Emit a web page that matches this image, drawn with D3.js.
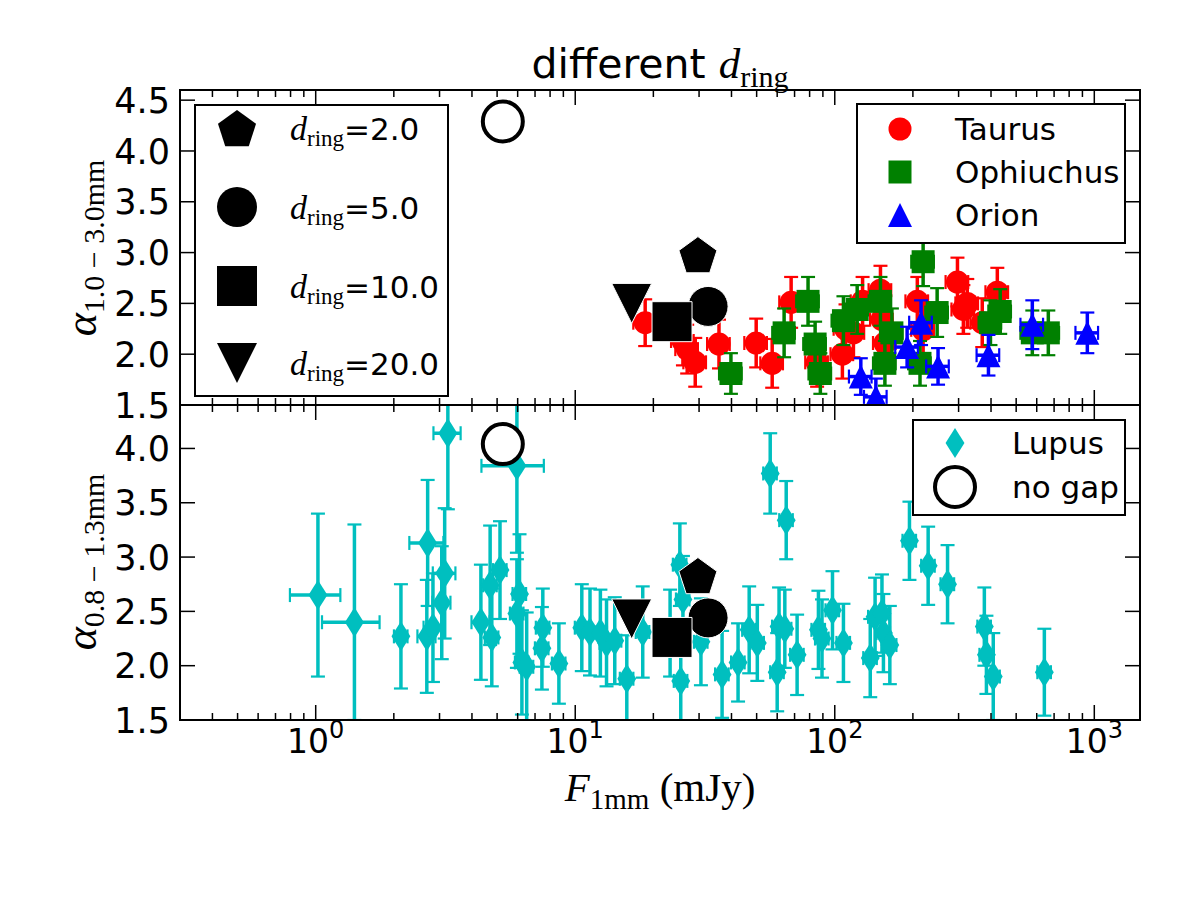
<!DOCTYPE html>
<html>
<head>
<meta charset="utf-8">
<script src="https://cdn.jsdelivr.net/npm/d3@7"></script>
<style>
  body { margin: 0; background: #fff; }
</style>
</head>
<body>
<div id="chart"></div>
<script>
// rows: [F_1mm (mJy), alpha, alpha error]
const taurus = [
  [18.6, 2.31, 0.23], [26, 2.13, 0.24], [27, 2.05, 0.24], [29, 1.92, 0.24],
  [35.8, 2.10, 0.24], [49.8, 2.11, 0.24], [57.4, 1.91, 0.24], [67.9, 2.51, 0.25],
  [85.5, 1.92, 0.24], [107, 2.00, 0.24], [110, 2.25, 0.24], [118, 2.21, 0.24],
  [128, 2.52, 0.24], [150, 2.63, 0.24], [152, 2.34, 0.24], [156, 2.11, 0.24],
  [208, 2.52, 0.24], [219, 2.24, 0.24], [297, 2.71, 0.24], [313, 2.44, 0.24],
  [324, 2.50, 0.24], [370, 2.31, 0.24], [423, 2.61, 0.24]
];
const ophiuchus = [
  [39.8, 1.81, 0.2], [63.8, 2.21, 0.24], [78.9, 2.52, 0.24], [84, 2.10, 0.22],
  [88, 1.81, 0.2], [108, 2.33, 0.24], [122, 2.44, 0.24], [150, 2.52, 0.24],
  [156, 1.91, 0.22], [166, 2.21, 0.24], [213, 1.91, 0.22], [219, 2.91, 0.24],
  [248, 2.41, 0.24], [398, 2.31, 0.22], [434, 2.42, 0.22], [577, 2.21, 0.22],
  [665, 2.21, 0.22]
];
const orion = [
  [126, 1.78, 0.18], [144, 1.58, 0.18], [190, 2.07, 0.2], [215, 2.31, 0.22],
  [250, 1.88, 0.18], [391, 1.99, 0.2], [577, 2.29, 0.24], [577, 3.4, 0.28],
  [940, 2.21, 0.2]
];
// rows: [F_1mm (mJy), alpha, alpha error, relative flux error]
const lupus = [
  [1.02, 2.65, 0.75, 0.22], [1.41, 2.40, 0.90, 0.25], [2.13, 2.27, 0.48, 0.06],
  [2.70, 3.13, 0.58, 0.15], [2.68, 2.27, 0.52, 0.08], [2.83, 2.35, 0.5, 0.08],
  [3.06, 2.58, 0.52, 0.08], [3.14, 2.85, 0.6, 0.1], [3.23, 4.14, 0.7, 0.12],
  [4.33, 2.40, 0.53, 0.08], [4.7, 2.74, 0.55, 0.06], [4.77, 2.26, 0.45, 0.06],
  [5.13, 2.88, 0.45, 0.06], [5.96, 3.84, 0.8, 0.27], [6.1, 2.66, 0.55, 0.06],
  [5.96, 2.48, 0.5, 0.06], [6.23, 2.03, 0.48, 0.06], [6.5, 1.99, 0.5, 0.06],
  [7.44, 2.16, 0.38, 0.06], [7.5, 2.35, 0.36, 0.06], [8.65, 2.02, 0.37, 0.06],
  [10.6, 2.35, 0.40, 0.06], [11.4, 2.31, 0.4, 0.06], [12.5, 2.30, 0.4, 0.06],
  [13.2, 2.21, 0.4, 0.06], [14.2, 2.23, 0.4, 0.06], [15.8, 1.88, 0.4, 0.06],
  [18.2, 2.31, 0.42, 0.06], [23.2, 2.30, 0.4, 0.06], [25.3, 2.93, 0.38, 0.06],
  [26, 2.61, 0.4, 0.06], [25.5, 1.86, 0.4, 0.06], [30.5, 2.22, 0.4, 0.06],
  [36.8, 1.92, 0.4, 0.06], [42.4, 2.03, 0.36, 0.06], [46.8, 2.33, 0.4, 0.06],
  [50.3, 2.21, 0.35, 0.06], [56.4, 3.77, 0.37, 0.06], [65, 3.34, 0.36, 0.06],
  [60, 1.94, 0.36, 0.06], [61, 2.36, 0.36, 0.06], [64.2, 2.34, 0.36, 0.06],
  [71.6, 2.10, 0.37, 0.06], [86.5, 2.33, 0.36, 0.06], [89.3, 2.25, 0.36, 0.06],
  [98, 2.51, 0.36, 0.06], [108, 2.21, 0.36, 0.06], [137, 2.07, 0.36, 0.06],
  [143, 2.45, 0.36, 0.06], [152, 2.48, 0.36, 0.06], [154, 2.30, 0.36, 0.06],
  [163, 2.19, 0.36, 0.06], [194, 3.15, 0.36, 0.06], [229, 2.92, 0.36, 0.06],
  [272, 2.75, 0.36, 0.06], [377, 2.36, 0.36, 0.06], [384, 2.10, 0.36, 0.06],
  [408, 1.90, 0.40, 0.06], [642, 1.94, 0.40, 0.06]
];
// model runs: d_ring values, marker per run, positions in each panel
const dringValues = ["2.0", "5.0", "10.0", "20.0"];
const modelMarkers = ["pentagon", "circle", "square", "triDown"];
const modelTop = [[29.7, 2.98], [32.5, 2.47], [23.6, 2.32], [16.5, 2.50]];
const modelBottom = [[29.7, 2.83], [32.5, 2.44], [23.6, 2.26], [16.5, 2.43]];
const noGapTop = [5.26, 4.29];
const noGapBottom = [5.26, 4.04];

const topTicks = [1.5, 2.0, 2.5, 3.0, 3.5, 4.0, 4.5];
const bottomTicks = [1.5, 2.0, 2.5, 3.0, 3.5, 4.0];
const xMajor = [1, 10, 100, 1000];
const xMajorExp = ["0", "1", "2", "3"];

function init() {
  const width = 1200, height = 900;
  const left = 180, right = 1140;
  const sans = "DejaVu Sans", serif = "Liberation Serif";

  const svg = d3.select("#chart").append("svg")
    .attr("width", width).attr("height", height)
    .style("background", "#fff");

  const x = d3.scaleLog().domain([0.3, 1500]).range([left, right]);
  const yTop = d3.scaleLinear().domain([1.5, 4.6]).range([405, 90]);
  const yBot = d3.scaleLinear().domain([1.5, 4.4]).range([720, 405]);

  const shapes = {
    circle: r => `M${r},0A${r},${r} 0 1,1 ${-r},0A${r},${r} 0 1,1 ${r},0Z`,
    square: r => `M${-r},${-r}H${r}V${r}H${-r}Z`,
    triUp: r => `M0,${-r}L${r},${r}L${-r},${r}Z`,
    triDown: r => `M0,${r}L${r},${-r}L${-r},${-r}Z`,
    diamond: r => `M0,${-r}L${r * 0.63},0L0,${r}L${-r * 0.63},0Z`,
    pentagon: r => {
      const pts = d3.range(5).map(i => {
        const a = -Math.PI / 2 + i * 2 * Math.PI / 5;
        return [r * Math.cos(a), r * Math.sin(a) + r * 0.1];
      });
      return "M" + pts.map(p => p.join(",")).join("L") + "Z";
    }
  };

  const defs = svg.append("defs");
  [["clipTop", yTop], ["clipBot", yBot]].forEach(([id, y]) => {
    defs.append("clipPath").attr("id", id).append("rect")
      .attr("x", left).attr("y", y.range()[1])
      .attr("width", right - left).attr("height", y.range()[0] - y.range()[1]);
  });

  const gTop = svg.append("g").attr("clip-path", "url(#clipTop)");
  const gBot = svg.append("g").attr("clip-path", "url(#clipBot)");

  // error bars first, then markers (like matplotlib errorbar)
  function drawSeries(g, data, y, color, shape, r, xerr) {
    const bars = g.append("g").attr("stroke", color);
    data.forEach(d => {
      const cx = x(d[0]), cy = y(d[1]);
      const y0 = y(d[1] - d[2]), y1 = y(d[1] + d[2]);
      const fx = d[3] || xerr;
      const x0 = x(d[0] * (1 - fx)), x1 = x(d[0] * (1 + fx));
      bars.append("line").attr("x1", cx).attr("x2", cx).attr("y1", y0).attr("y2", y1)
        .attr("stroke-width", 3.5);
      bars.append("line").attr("x1", x0).attr("x2", x1).attr("y1", cy).attr("y2", cy)
        .attr("stroke-width", 3.5);
      [y0, y1].forEach(yy => bars.append("line")
        .attr("x1", cx - 7).attr("x2", cx + 7).attr("y1", yy).attr("y2", yy)
        .attr("stroke-width", 2.2));
      [x0, x1].forEach(xx => bars.append("line")
        .attr("x1", xx).attr("x2", xx).attr("y1", cy - 7).attr("y2", cy + 7)
        .attr("stroke-width", 2.2));
    });
    g.append("g").selectAll("path").data(data).enter().append("path")
      .attr("d", shapes[shape](r))
      .attr("transform", d => `translate(${x(d[0])},${y(d[1])})`)
      .attr("fill", color);
  }

  drawSeries(gTop, taurus, yTop, "#ff0000", "circle", 11.5, 0.1);
  drawSeries(gTop, ophiuchus, yTop, "#008000", "square", 11.5, 0.1);
  drawSeries(gTop, orion, yTop, "#0000ff", "triUp", 12, 0.1);
  drawSeries(gBot, lupus, yBot, "#00bfbf", "diamond", 15, 0.07);

  function drawModels(g, pts, nogap, y) {
    pts.forEach((p, i) => {
      g.append("path").attr("d", shapes[modelMarkers[i]](20))
        .attr("transform", `translate(${x(p[0])},${y(p[1])})`)
        .attr("fill", "#000").attr("stroke", "#fff").attr("stroke-width", 1);
    });
    g.append("circle").attr("cx", x(nogap[0])).attr("cy", y(nogap[1])).attr("r", 20)
      .attr("fill", "#fff").attr("stroke", "#000").attr("stroke-width", 4);
  }
  drawModels(gTop, modelTop, noGapTop, yTop);
  drawModels(gBot, modelBottom, noGapBottom, yBot);

  // frames and ticks
  const minor = [];
  [0.1, 1, 10, 100, 1000].forEach(dec => {
    for (let k = 2; k <= 9; k++) {
      const v = dec * k;
      if (v >= 0.3 && v <= 1500) minor.push(v);
    }
  });

  function panelFrame(y, ticks) {
    const g = svg.append("g").attr("stroke", "#000").attr("stroke-width", 1.5);
    const yb = y.range()[0], yt = y.range()[1];
    ticks.forEach(t => {
      g.append("line").attr("x1", left).attr("x2", left + 15).attr("y1", y(t)).attr("y2", y(t));
      g.append("line").attr("x1", right).attr("x2", right - 15).attr("y1", y(t)).attr("y2", y(t));
    });
    xMajor.forEach(v => {
      g.append("line").attr("x1", x(v)).attr("x2", x(v)).attr("y1", yb).attr("y2", yb - 15);
      g.append("line").attr("x1", x(v)).attr("x2", x(v)).attr("y1", yt).attr("y2", yt + 15);
    });
    minor.forEach(v => {
      g.append("line").attr("x1", x(v)).attr("x2", x(v)).attr("y1", yb).attr("y2", yb - 7);
      g.append("line").attr("x1", x(v)).attr("x2", x(v)).attr("y1", yt).attr("y2", yt + 7);
    });
    svg.append("rect").attr("x", left).attr("y", yt)
      .attr("width", right - left).attr("height", yb - yt)
      .attr("fill", "none").attr("stroke", "#000").attr("stroke-width", 2);
    svg.append("g").selectAll("text").data(ticks).enter().append("text")
      .attr("x", 170).attr("y", d => y(d)).attr("dy", "0.36em")
      .attr("text-anchor", "end")
      .style("font-family", sans).style("font-size", "35px")
      .text(d => d.toFixed(1));
  }
  panelFrame(yTop, topTicks);
  panelFrame(yBot, bottomTicks);

  // x tick labels 10^n
  xMajor.forEach((v, i) => {
    const t = svg.append("text").attr("x", x(v)).attr("y", 753)
      .attr("text-anchor", "middle")
      .style("font-family", sans).style("font-size", "33px");
    t.append("tspan").text("10");
    t.append("tspan").attr("dy", -15).style("font-size", "24px").text(xMajorExp[i]);
  });

  // axis labels
  const xl = svg.append("text").attr("x", (left + right) / 2).attr("y", 801)
    .attr("text-anchor", "middle").style("font-family", serif).style("font-size", "41px");
  xl.append("tspan").style("font-style", "italic").text("F");
  xl.append("tspan").attr("dy", 8).style("font-size", "29px").text("1mm");
  xl.append("tspan").attr("dy", -8).text(" (mJy)");

  function yLabel(cy, sub) {
    const t = svg.append("text")
      .attr("transform", `translate(96,${cy}) rotate(-90)`)
      .attr("text-anchor", "middle").style("font-family", serif).style("font-size", "44px");
    t.append("tspan").style("font-style", "italic").text("α");
    t.append("tspan").attr("dy", 8).style("font-size", "30px").text(sub);
  }
  yLabel(248, "1.0 − 3.0mm");
  yLabel(562, "0.8 − 1.3mm");

  // title
  const title = svg.append("text").attr("x", (left + right) / 2).attr("y", 78)
    .attr("text-anchor", "middle").style("font-size", "41px");
  title.append("tspan").style("font-family", sans).text("different ");
  title.append("tspan").style("font-family", serif).style("font-style", "italic")
    .style("font-size", "43px").text("d");
  title.append("tspan").attr("dy", 9).style("font-family", serif)
    .style("font-size", "30px").text("ring");

  // legend: model rings (top left)
  const lg1 = svg.append("g");
  lg1.append("rect").attr("x", 195).attr("y", 105).attr("width", 253).attr("height", 291)
    .attr("fill", "#fff").attr("stroke", "#000").attr("stroke-width", 2);
  const rows1 = [128, 207, 286, 363];
  dringValues.forEach((v, i) => {
    lg1.append("path").attr("d", shapes[modelMarkers[i]](20))
      .attr("transform", `translate(237,${rows1[i]})`).attr("fill", "#000");
    const t = lg1.append("text").attr("x", 290).attr("y", rows1[i] + 12);
    t.append("tspan").style("font-family", serif).style("font-style", "italic")
      .style("font-size", "34px").text("d");
    t.append("tspan").attr("dy", 6).style("font-family", serif)
      .style("font-size", "23px").text("ring");
    t.append("tspan").attr("dy", -6).style("font-family", sans)
      .style("font-size", "31px").text("=" + v);
  });

  // legend: regions (top right)
  const regions = [["Taurus", "#ff0000", "circle", 11.5], ["Ophiuchus", "#008000", "square", 11.5],
                   ["Orion", "#0000ff", "triUp", 12]];
  const lg2 = svg.append("g");
  lg2.append("rect").attr("x", 857).attr("y", 104).attr("width", 268).attr("height", 139)
    .attr("fill", "#fff").attr("stroke", "#000").attr("stroke-width", 2);
  const rows2 = [129, 172, 215];
  regions.forEach((r, i) => {
    lg2.append("path").attr("d", shapes[r[2]](r[3]))
      .attr("transform", `translate(900,${rows2[i]})`).attr("fill", r[1]);
    lg2.append("text").attr("x", 955).attr("y", rows2[i]).attr("dy", "0.36em")
      .style("font-family", sans).style("font-size", "31px").text(r[0]);
  });

  // legend: Lupus / no gap (bottom right)
  const lg3 = svg.append("g");
  lg3.append("rect").attr("x", 913).attr("y", 420).attr("width", 212).attr("height", 95)
    .attr("fill", "#fff").attr("stroke", "#000").attr("stroke-width", 2);
  lg3.append("path").attr("d", shapes.diamond(15))
    .attr("transform", "translate(955,443)").attr("fill", "#00bfbf");
  lg3.append("circle").attr("cx", 955).attr("cy", 487).attr("r", 20)
    .attr("fill", "#fff").attr("stroke", "#000").attr("stroke-width", 4);
  [["Lupus", 443], ["no gap", 487]].forEach(([s, yy]) => {
    lg3.append("text").attr("x", 1012).attr("y", yy).attr("dy", "0.36em")
      .style("font-family", sans).style("font-size", "31px").text(s);
  });
}

window.onload = init;
</script>
</body>
</html>
